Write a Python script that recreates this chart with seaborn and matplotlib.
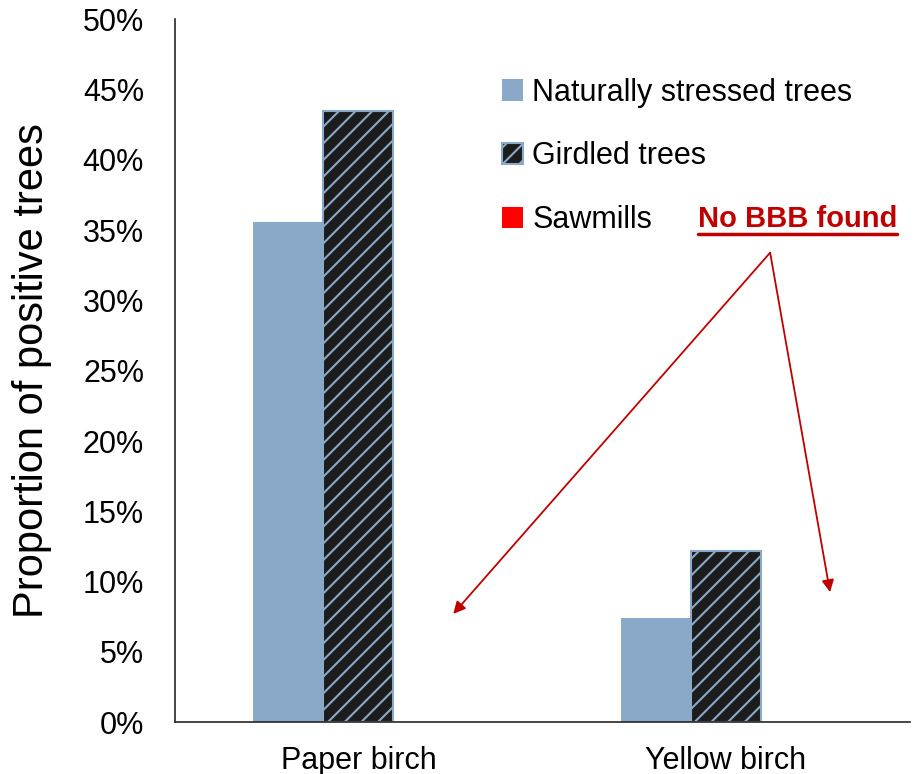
import matplotlib
matplotlib.use("Agg")
import matplotlib.pyplot as plt
import seaborn as sns
import pandas as pd
from matplotlib.patches import Patch
from matplotlib.lines import Line2D
from matplotlib.ticker import PercentFormatter

species = ["Paper birch", "Yellow birch"]
groups = ["Naturally stressed trees", "Girdled trees", "Sawmills"]
natural = [0.356, 0.074]
girdled = [0.435, 0.122]
sawmills = [0.0, 0.0]
y_ticks = [0.0, 0.05, 0.10, 0.15, 0.20, 0.25, 0.30, 0.35, 0.40, 0.45, 0.50]

BLUE = "#8AA8C8"
DARK = "#1c1c1c"
RED = "#FF0000"
NOTE_RED = "#C00000"

rows = []
for g, vals in zip(groups, [natural, girdled, sawmills]):
    for s, v in zip(species, vals):
        rows.append({"species": s, "group": g, "value": v})
df = pd.DataFrame(rows)

sns.set_theme(style="white")
plt.rcParams["font.family"] = ["Liberation Sans", "DejaVu Sans"]
plt.rcParams["hatch.linewidth"] = 1.5
plt.rcParams["text.color"] = "black"
plt.rcParams["axes.labelcolor"] = "black"

fig = plt.figure(figsize=(9.19, 7.74), dpi=100)
ax = fig.add_axes([0.190, 0.067, 0.800, 0.908])

sns.barplot(
    data=df, x="species", y="value", hue="group", hue_order=groups,
    palette=[BLUE, DARK, RED], width=0.571, ax=ax, legend=False,
    saturation=1,
)

for i, cont in enumerate(ax.containers):
    for bar in cont:
        if i == 0:
            bar.set_edgecolor(BLUE)
            bar.set_linewidth(0)
        elif i == 1:
            bar.set_facecolor(DARK)
            bar.set_edgecolor(BLUE)
            bar.set_hatch("//")
            bar.set_linewidth(1.5)
        else:
            bar.set_linewidth(0)

ax.set_ylim(0, 0.5)
ax.set_yticks(y_ticks)
ax.yaxis.set_major_formatter(PercentFormatter(1.0, decimals=0))
ax.set_xlim(-0.5, 1.5)
ax.tick_params(axis="y", length=0, pad=22, labelsize=22, labelcolor="black")
ax.tick_params(axis="x", length=0, pad=17, labelsize=22, labelcolor="black")
ax.set_xlabel("")
ax.set_ylabel("Proportion of positive trees", fontsize=30, labelpad=22,
              color="black")

for side in ["top", "right"]:
    ax.spines[side].set_visible(False)
for side in ["left", "bottom"]:
    ax.spines[side].set_color("#262626")
    ax.spines[side].set_linewidth(1.2)

handles = [
    Patch(facecolor=BLUE, edgecolor=BLUE, linewidth=0),
    Patch(facecolor=DARK, edgecolor=BLUE, hatch="//", linewidth=1.5),
    Patch(facecolor=RED, edgecolor=RED, linewidth=0),
]
leg = ax.legend(
    handles, groups, loc="upper left", bbox_to_anchor=(0.445, 0.917),
    frameon=False, fontsize=22, handlelength=0.7, handleheight=0.7,
    handletextpad=0.3, labelspacing=1.1, borderpad=0, borderaxespad=0,
)
for t in leg.get_texts():
    t.set_color("black")

# annotation with arrows
note = ax.text(0.924, 0.358, "No BBB found", color=NOTE_RED, fontsize=21,
               fontweight="bold", ha="left", va="center")
arrow_kw = dict(arrowstyle="-|>", color=NOTE_RED, lw=1.3, mutation_scale=18,
                shrinkA=0, shrinkB=0)
ax.annotate("", xy=(0.258, 0.077), xytext=(1.12, 0.334), arrowprops=arrow_kw)
ax.annotate("", xy=(1.283, 0.0925), xytext=(1.12, 0.334), arrowprops=arrow_kw)

fig.canvas.draw()
bb = note.get_window_extent()
uy = bb.y0 - 1
fig.add_artist(Line2D([bb.x0 / fig.bbox.width, bb.x1 / fig.bbox.width],
                      [uy / fig.bbox.height, uy / fig.bbox.height],
                      color=NOTE_RED, lw=2.5, transform=fig.transFigure))

fig.savefig("out.png", dpi=100)
